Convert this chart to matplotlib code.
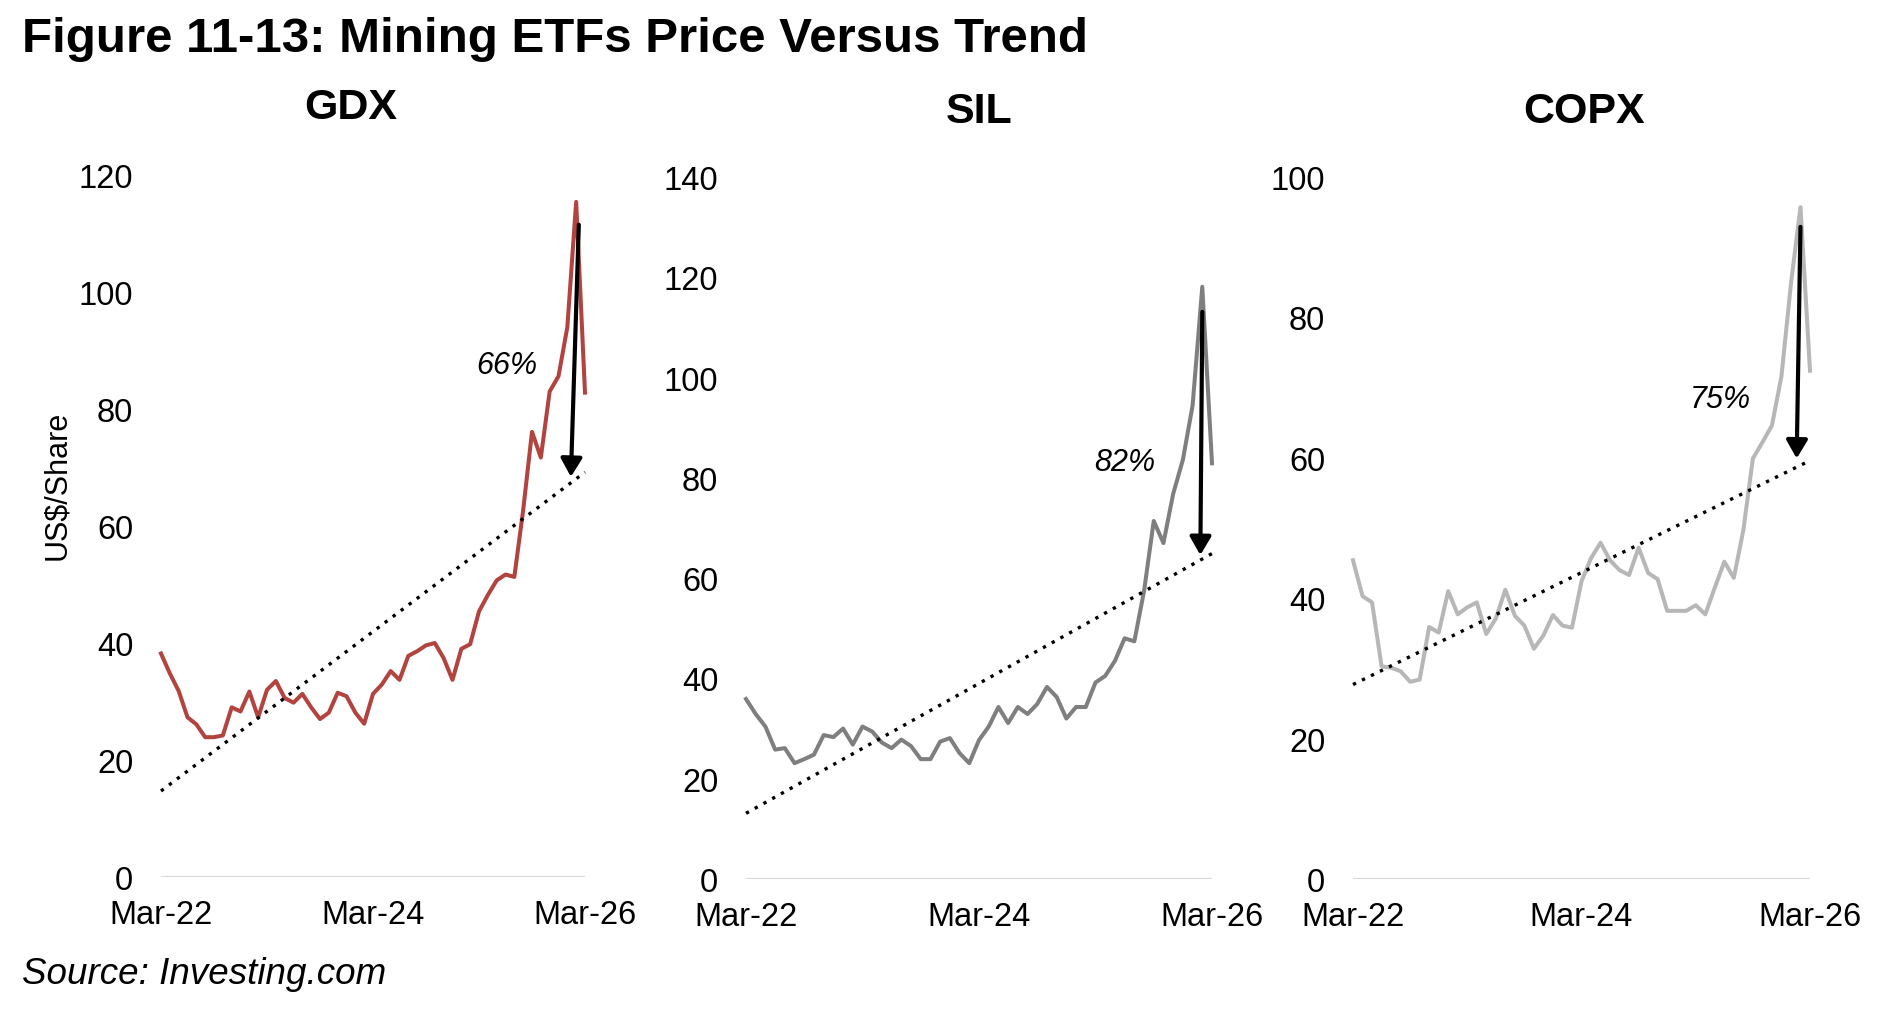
import matplotlib
matplotlib.use('Agg')
import matplotlib.pyplot as plt

plt.rcParams['font.family'] = ['Liberation Sans', 'DejaVu Sans']

# Monthly closes, Mar-22 .. Mar-26 (49 points)
gdx = [38.2, 34.8, 31.8, 27.3, 26.1, 23.9, 23.9, 24.2, 29.0, 28.3, 31.7, 27.3,
       32.0, 33.5, 30.6, 29.8, 31.3, 29.0, 27.0, 28.1, 31.5, 30.9, 28.1, 26.2,
       31.3, 32.9, 35.2, 33.7, 37.8, 38.6, 39.6, 40.0, 37.4, 33.7, 39.0, 39.8,
       45.4, 48.2, 50.7, 51.7, 51.3, 62.7, 76.1, 71.7, 83.0, 85.6, 94.0, 115.4, 82.8]
sil = [35.9, 32.9, 30.4, 25.8, 26.1, 23.1, 23.9, 24.8, 28.7, 28.3, 30.0, 26.8,
       30.4, 29.4, 27.2, 26.1, 27.8, 26.5, 23.9, 23.9, 27.4, 28.1, 25.1, 23.1,
       27.7, 30.4, 34.3, 31.1, 34.3, 32.9, 34.9, 38.3, 36.3, 32.0, 34.3, 34.3,
       39.2, 40.5, 43.5, 48.0, 47.4, 57.4, 71.4, 67.0, 76.8, 83.6, 94.4, 118.1, 82.9]
copx = [45.4, 40.3, 39.4, 30.3, 30.1, 29.6, 28.1, 28.4, 35.9, 35.1, 41.0, 37.7,
        38.7, 39.4, 34.9, 37.1, 41.2, 37.5, 36.1, 32.8, 34.7, 37.6, 36.1, 35.8,
        42.4, 45.7, 47.9, 45.4, 44.0, 43.3, 47.2, 43.6, 42.7, 38.2, 38.2, 38.2,
        39.0, 37.7, 41.5, 45.2, 42.9, 49.7, 59.9, 62.2, 64.6, 71.6, 84.8, 95.7, 72.4]

# trend line end points (start, end)
gdx_trend = [14.7, 69.2]
sil_trend = [13.1, 64.9]
copx_trend = [27.7, 59.6]

# arrow: (x_top, y_top, x_tip, y_tip) and gap label
gdx_arrow = [47.3, 111.5, 46.4, 68.4]
sil_arrow = [47.0, 113.1, 46.8, 64.6]
copx_arrow = [47.0, 92.9, 46.6, 59.9]
labels_pct = ['66%', '82%', '75%']
label_pos = [(39.1, 87.5), (39.0, 83.2), (38.6, 68.4)]

tick_pos = [0, 24, 48]
tick_labels = ['Mar-22', 'Mar-24', 'Mar-26']

names = ['GDX', 'SIL', 'COPX']
series = [gdx, sil, copx]
trends = [gdx_trend, sil_trend, copx_trend]
arrows = [gdx_arrow, sil_arrow, copx_arrow]
colors = ['#B2433F', '#7F7F7F', '#B7B7B7']
ymax = [120, 140, 100]
ystep = [20, 20, 20]

W, H = 1890, 1020
fig = plt.figure(figsize=(18.9, 10.2), dpi=100)

# axes boxes in pixels: left, right, bottom(y0), top(ymax)
boxes = [(161, 585, 878, 176), (746, 1212, 880, 178), (1353, 1810, 880, 178)]
title_pos = [(351, 119), (979, 123), (1584, 123)]

for i in range(3):
    l, r, b, t = boxes[i]
    ax = fig.add_axes([l / W, 1 - b / H, (r - l) / W, (b - t) / H])
    x = list(range(len(series[i])))
    ax.axhline(0, color='#D9D9D9', lw=1.6, zorder=1)
    ax.plot(x, series[i], color=colors[i], lw=2.9, zorder=3, clip_on=False)
    ax.plot([0, 48], trends[i], color='black', lw=2.4,
            linestyle=(0, (1, 2)), zorder=4, clip_on=False)
    xa, ya, xb, yb = arrows[i]
    ax.annotate('', xy=(xb, yb), xytext=(xa, ya),
                arrowprops=dict(arrowstyle='-|>,head_length=0.55,head_width=0.32',
                                mutation_scale=20, lw=3, color='black',
                                shrinkA=0, shrinkB=0), zorder=5)
    ax.text(label_pos[i][0], label_pos[i][1], labels_pct[i], fontsize=22,
            style='italic', ha='center', va='center')
    ax.set_xlim(0, 48)
    ax.set_ylim(0, ymax[i])
    ax.set_yticks(range(0, ymax[i] + 1, ystep[i]))
    ax.set_xticks(tick_pos)
    ax.set_xticklabels(tick_labels)
    ax.tick_params(axis='y', length=0, pad=20, labelsize=23.5)
    ax.tick_params(axis='x', length=0, pad=16, labelsize=23.5)
    for s in ax.spines.values():
        s.set_visible(False)
    ax.patch.set_alpha(0)
    fig.text(title_pos[i][0] / W, 1 - title_pos[i][1] / H, names[i],
             fontsize=31, fontweight='bold', ha='center', va='baseline')

fig.text(57 / W, 1 - 485 / H, 'US$/Share', fontsize=22, rotation=90,
         ha='center', va='center')
fig.text(22 / W, 1 - 52 / H, 'Figure 11-13: Mining ETFs Price Versus Trend',
         fontsize=35.5, fontweight='bold', ha='left', va='baseline')
fig.text(22 / W, 1 - 975 / H, 'Source: Investing.com', fontsize=26.5,
         style='italic', ha='left', va='center')

fig.savefig('out.png', dpi=100)
